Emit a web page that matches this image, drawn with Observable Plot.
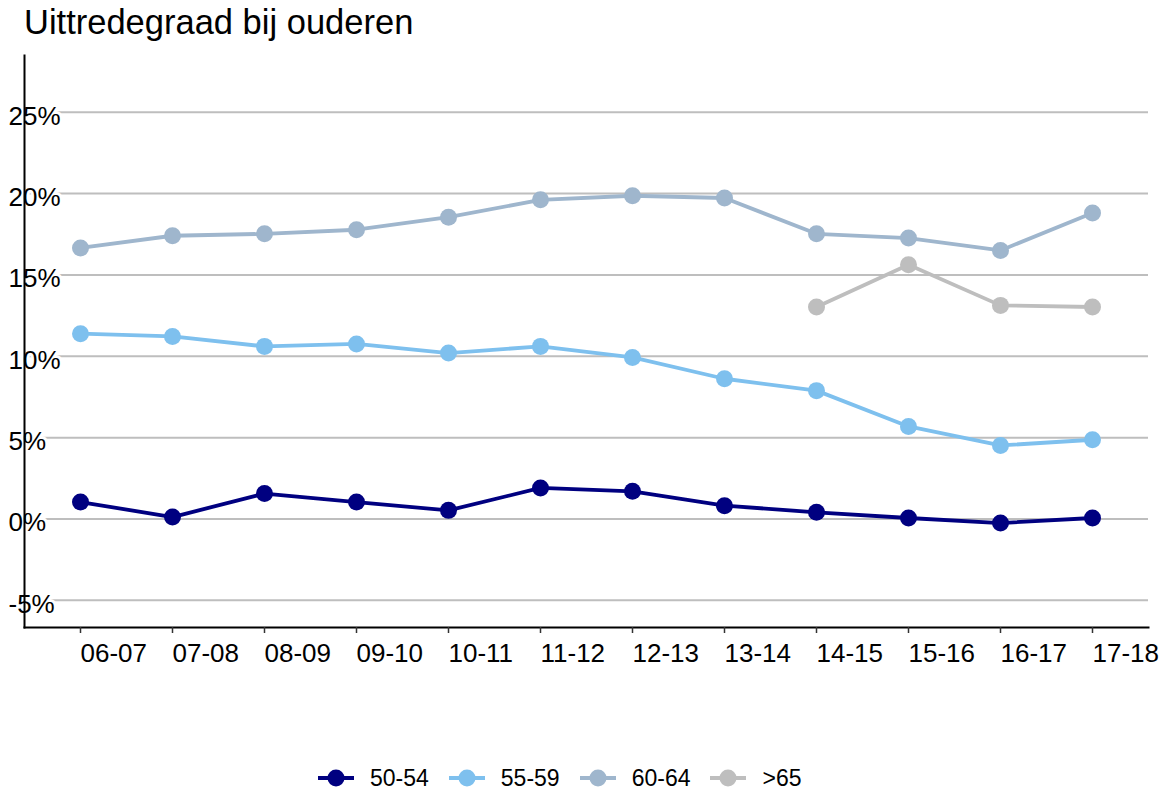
<!DOCTYPE html>
<html><head><meta charset="utf-8">
<script src="https://cdn.jsdelivr.net/npm/d3@7"></script>
<script src="https://cdn.jsdelivr.net/npm/@observablehq/plot@0.6"></script>
<style>
body{margin:0;background:#fff;font-family:"Liberation Sans",Arial,sans-serif;width:1165px;height:794px;position:relative;overflow:hidden;}
#title{position:absolute;left:24px;top:3px;font-size:34.5px;color:#000;white-space:nowrap;z-index:2;}
#chart{position:absolute;left:0;top:0;z-index:1;}
#legend{position:absolute;left:318px;top:766px;height:24px;display:flex;align-items:center;font-size:23px;color:#000;z-index:2;}
.item{display:flex;align-items:center;margin-right:20px;}
.item svg{margin-right:16px;}
</style></head>
<body>
<div id="chart"></div>
<div id="title">Uittredegraad bij ouderen</div>
<div id="legend"></div>
<script>
const periods = ["06-07","07-08","08-09","09-10","10-11","11-12","12-13","13-14","14-15","15-16","16-17","17-18"];
const groups = ["50-54","55-59","60-64",">65"];
const v5054 = [1.04,0.12,1.56,1.04,0.53,1.91,1.70,0.82,0.41,0.06,-0.25,0.06];
const v5559 = [11.39,11.22,10.61,10.76,10.20,10.61,9.93,8.62,7.89,5.69,4.52,4.87];
const v6064 = [16.66,17.41,17.53,17.78,18.55,19.62,19.87,19.73,17.53,17.27,16.51,18.81];
const v65plus = [null,null,null,null,null,null,null,null,13.03,15.63,13.13,13.03];
const colors = ["#000080","#7EC0EE","#9FB6CD","#BEBEBE"];
const yTicks = [-5,0,5,10,15,20,25];
const yDomain = [-6.67,28.49];

const series = [v5054,v5559,v6064,v65plus];
const data = [];
series.forEach((vals,gi)=>vals.forEach((v,i)=>{ if(v!==null) data.push({period:periods[i],group:groups[gi],value:v}); }));

const chart = Plot.plot({
  width:1165, height:700,
  marginTop:55, marginBottom:73, marginLeft:24, marginRight:17,
  style:{fontFamily:'"Liberation Sans",Arial,sans-serif', background:"white"},
  x:{type:"point", domain:periods, padding:0.59, label:null},
  y:{domain:yDomain, label:null},
  color:{domain:groups, range:colors},
  marks:[
    Plot.gridY(yTicks,{stroke:"#bebebe",strokeOpacity:1,strokeWidth:2}),
    Plot.axisY(yTicks,{tickSize:0,tickPadding:16,textAnchor:"start",tickFormat:d=>d+"%",fontSize:26,fill:"#000",textStroke:"white",textStrokeWidth:6,dy:4,label:null}),
    Plot.line(data,{x:"period",y:"value",stroke:"group",z:"group",strokeWidth:3.8}),
    Plot.dot(data,{x:"period",y:"value",fill:"group",r:8.5}),
    Plot.frame({anchor:"left",stroke:"#000",strokeWidth:2}),
    Plot.frame({anchor:"bottom",stroke:"#000",strokeWidth:2}),
    Plot.axisX({tickSize:6,tickPadding:10,textAnchor:"start",fontSize:26,fill:"#000",stroke:"#333",strokeWidth:1.5,label:null})
  ]
});
document.getElementById("chart").appendChild(chart);

const legend = document.getElementById("legend");
groups.forEach((g,i)=>{
  const it = document.createElement("div"); it.className="item";
  it.innerHTML = `<svg width="36" height="20"><line x1="0" x2="36" y1="10" y2="10" stroke="${colors[i]}" stroke-width="4"/><circle cx="18" cy="10" r="8.5" fill="${colors[i]}"/></svg><span>${g}</span>`;
  legend.appendChild(it);
});
</script>
</body></html>
